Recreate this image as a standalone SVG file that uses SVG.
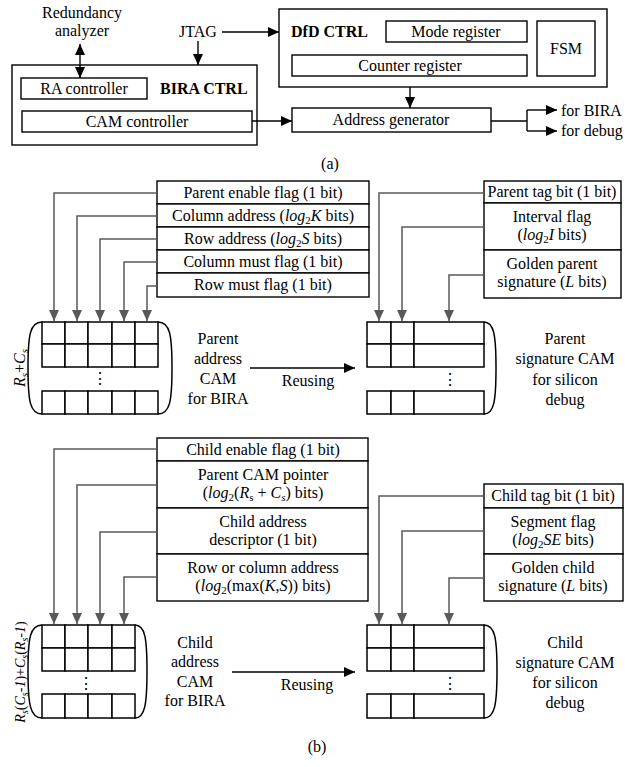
<svg xmlns="http://www.w3.org/2000/svg" width="634" height="767" viewBox="0 0 634 767" font-family="Liberation Serif, DejaVu Serif, serif">
<style>
text{font-family:'Liberation Serif','DejaVu Serif',serif;font-size:16px;fill:#000;text-anchor:middle}
.b{font-weight:bold}
.st{text-anchor:start}
.i{font-style:italic}
.box{fill:#fff;stroke:#000;stroke-width:1.4}
.cell{fill:#fff;stroke:#000;stroke-width:1.5}
.br{fill:none;stroke:#000;stroke-width:1.5}
.k{fill:none;stroke:#000;stroke-width:1.4}
.g{fill:none;stroke:#595959;stroke-width:1.5}
</style>
<defs>
<marker id="ah" markerUnits="userSpaceOnUse" markerWidth="11" markerHeight="10" viewBox="0 0 11 10" refX="11" refY="5" orient="auto"><path d="M0,0 L11,5 L0,10 z" fill="#000"/></marker>
<marker id="as" markerUnits="userSpaceOnUse" markerWidth="11" markerHeight="10" viewBox="0 0 11 10" refX="11" refY="5" orient="auto-start-reverse"><path d="M0,0 L11,5 L0,10 z" fill="#000"/></marker>
<marker id="gh" markerUnits="userSpaceOnUse" markerWidth="11" markerHeight="10" viewBox="0 0 11 10" refX="11" refY="5" orient="auto"><path d="M0,0 L11,5 L0,10 z" fill="#595959"/></marker>
</defs>

<!-- (a) -->
<g id="redundancy-analyzer"><text x="82" y="18">Redundancy</text><text x="82" y="36">analyzer</text></g>
<g id="jtag"><text x="198" y="37">JTAG</text></g>
<g id="bira-ctrl">
<rect class="box" x="12" y="65" width="245" height="80"/>
<text class="b st" x="160" y="94">BIRA CTRL</text>
</g>
<g id="ra-controller"><rect class="box" x="21" y="78" width="126" height="21"/><text x="84" y="94">RA controller</text></g>
<g id="cam-controller"><rect class="box" x="22" y="111" width="230" height="21"/><text x="137" y="127">CAM controller</text></g>
<g id="dfd-ctrl">
<rect class="box" x="279" y="9" width="328" height="78"/>
<text class="b st" x="291" y="37">DfD CTRL</text>
</g>
<g id="mode-register"><rect class="box" x="386" y="21" width="141" height="21"/><text x="456" y="37">Mode register</text></g>
<g id="counter-register"><rect class="box" x="292" y="55" width="235" height="21"/><text x="410" y="71">Counter register</text></g>
<g id="fsm"><rect class="box" x="537" y="21" width="58" height="55"/><text x="566" y="54">FSM</text></g>
<g id="address-generator"><rect class="box" x="292" y="108" width="199" height="24"/><text x="391" y="125">Address generator</text></g>
<g id="outputs"><text class="st" x="561" y="116">for BIRA</text><text class="st" x="561" y="136">for debug</text></g>
<text x="330" y="169">(a)</text>

<g id="connectors-a">
<line class="k" x1="80" y1="44" x2="80" y2="78" marker-start="url(#as)" marker-end="url(#ah)"/>
<line class="k" x1="222" y1="32" x2="279" y2="32" marker-end="url(#ah)"/>
<line class="k" x1="198" y1="41" x2="198" y2="65" marker-end="url(#ah)"/>
<line class="k" x1="252" y1="121" x2="292" y2="121" marker-end="url(#ah)"/>
<line class="k" x1="410" y1="87" x2="410" y2="108" marker-end="url(#ah)"/>
<polyline class="k" points="491,121 527,121"/>
<polyline class="k" points="527,110 527,131"/>
<line class="k" x1="527" y1="110" x2="557" y2="110" marker-end="url(#ah)"/>
<line class="k" x1="527" y1="131" x2="557" y2="131" marker-end="url(#ah)"/>
</g>

<!-- Parent fields -->
<g id="parent-fields">
<rect class="box" x="157" y="181" width="212" height="23"/>
<rect class="box" x="157" y="204" width="212" height="23"/>
<rect class="box" x="157" y="227" width="212" height="23"/>
<rect class="box" x="157" y="250" width="212" height="23"/>
<rect class="box" x="157" y="273" width="212" height="24"/>
<text x="263" y="198">Parent enable flag (1 bit)</text>
<text x="263" y="221">Column address (<tspan class="i">log</tspan><tspan font-size="11" dy="3">2</tspan><tspan class="i" dy="-3">K</tspan> bits)</text>
<text x="263" y="244">Row address (<tspan class="i">log</tspan><tspan font-size="11" dy="3">2</tspan><tspan class="i" dy="-3">S</tspan> bits)</text>
<text x="263" y="267">Column must flag (1 bit)</text>
<text x="263" y="290">Row must flag (1 bit)</text>
</g>

<g id="parent-address-cam">
<rect class="cell" x="42" y="322" width="23" height="22"/><rect class="cell" x="65" y="322" width="23" height="22"/><rect class="cell" x="88" y="322" width="24" height="22"/><rect class="cell" x="112" y="322" width="23" height="22"/><rect class="cell" x="135" y="322" width="23" height="22"/>
<rect class="cell" x="42" y="344" width="23" height="23"/><rect class="cell" x="65" y="344" width="23" height="23"/><rect class="cell" x="88" y="344" width="24" height="23"/><rect class="cell" x="112" y="344" width="23" height="23"/><rect class="cell" x="135" y="344" width="23" height="23"/>
<rect class="cell" x="42" y="391" width="23" height="23"/><rect class="cell" x="65" y="391" width="23" height="23"/><rect class="cell" x="88" y="391" width="24" height="23"/><rect class="cell" x="112" y="391" width="23" height="23"/><rect class="cell" x="135" y="391" width="23" height="23"/>
<path class="br" d="M42,322 C30,322 28,335 28,368 C28,401 30,414 42,414"/>
<path class="br" d="M158,322 C170,322 172,335 172,368 C172,401 170,414 158,414"/>
<text x="100" y="384">⋮</text>
<text class="i" transform="translate(25,368) rotate(-90)">R<tspan font-size="11" dy="3">s</tspan><tspan dy="-3" font-style="normal">+</tspan>C<tspan font-size="11" dy="3">s</tspan></text>
<text x="218" y="344">Parent</text><text x="218" y="364">address</text><text x="218" y="384">CAM</text><text x="218" y="404">for BIRA</text>
</g>

<g id="parent-signature-fields">
<rect class="box" x="484" y="181" width="137" height="22"/>
<rect class="box" x="484" y="203" width="137" height="47"/>
<rect class="box" x="484" y="250" width="137" height="48"/>
<text x="552" y="197">Parent tag bit (1 bit)</text>
<text x="552" y="222">Interval flag</text>
<text x="552" y="240">(<tspan class="i">log</tspan><tspan font-size="11" dy="3">2</tspan><tspan class="i" dy="-3">I</tspan> bits)</text>
<text x="552" y="269">Golden parent</text>
<text x="552" y="287">signature (<tspan class="i">L</tspan> bits)</text>
</g>

<g id="parent-signature-cam">
<rect class="cell" x="367" y="322" width="24" height="22"/><rect class="cell" x="391" y="322" width="23" height="22"/><rect class="cell" x="414" y="322" width="70" height="22"/>
<rect class="cell" x="367" y="344" width="24" height="23"/><rect class="cell" x="391" y="344" width="23" height="23"/><rect class="cell" x="414" y="344" width="70" height="23"/>
<rect class="cell" x="367" y="391" width="24" height="23"/><rect class="cell" x="391" y="391" width="23" height="23"/><rect class="cell" x="414" y="391" width="70" height="23"/>
<path class="br" d="M484,322 C494,322 496,335 496,368 C496,401 494,414 484,414"/>
<text x="450" y="385">⋮</text>
<text x="565" y="344">Parent</text><text x="565" y="364">signature CAM</text><text x="565" y="385">for silicon</text><text x="565" y="405">debug</text>
</g>
<text x="308" y="386">Reusing</text>

<!-- Child fields -->
<g id="child-fields">
<rect class="box" x="157" y="438" width="211" height="23"/>
<rect class="box" x="157" y="461" width="211" height="47"/>
<rect class="box" x="157" y="508" width="211" height="46"/>
<rect class="box" x="157" y="554" width="211" height="47"/>
<text x="263" y="455">Child enable flag (1 bit)</text>
<text x="263" y="480">Parent CAM pointer</text>
<text x="263" y="498">(<tspan class="i">log</tspan><tspan font-size="11" dy="3">2</tspan><tspan dy="-3">(</tspan><tspan class="i">R</tspan><tspan font-size="11" dy="3">s</tspan><tspan dy="-3"> + </tspan><tspan class="i">C</tspan><tspan class="i" font-size="11" dy="3">s</tspan><tspan dy="-3">) bits)</tspan></text>
<text x="263" y="527">Child address</text>
<text x="263" y="545">descriptor (1 bit)</text>
<text x="263" y="573">Row or column address</text>
<text x="263" y="591">(<tspan class="i">log</tspan><tspan font-size="11" dy="3">2</tspan><tspan dy="-3">(max(</tspan><tspan class="i">K</tspan>,<tspan class="i">S</tspan>)) bits)</text>
</g>

<g id="child-address-cam">
<rect class="cell" x="42" y="625" width="23" height="23"/><rect class="cell" x="65" y="625" width="23" height="23"/><rect class="cell" x="88" y="625" width="24" height="23"/><rect class="cell" x="112" y="625" width="23" height="23"/>
<rect class="cell" x="42" y="648" width="23" height="23"/><rect class="cell" x="65" y="648" width="23" height="23"/><rect class="cell" x="88" y="648" width="24" height="23"/><rect class="cell" x="112" y="648" width="23" height="23"/>
<rect class="cell" x="42" y="694" width="23" height="24"/><rect class="cell" x="65" y="694" width="23" height="24"/><rect class="cell" x="88" y="694" width="24" height="24"/><rect class="cell" x="112" y="694" width="23" height="24"/>
<path class="br" d="M42,625 C30,625 28,638 28,671 C28,704 30,718 42,718"/>
<path class="br" d="M135,625 C145,625 147,638 147,671 C147,704 145,718 135,718"/>
<text x="86" y="689">⋮</text>
<text class="i" transform="translate(25,672) rotate(-90)" style="font-size:14px">R<tspan font-size="10" dy="3">s</tspan><tspan dy="-3" font-style="normal">(</tspan>C<tspan font-size="10" dy="3">s</tspan><tspan dy="-3" font-style="normal">-</tspan>1<tspan font-style="normal">)+</tspan>C<tspan font-size="10" dy="3">s</tspan><tspan dy="-3" font-style="normal">(</tspan>R<tspan font-size="10" dy="3">s</tspan><tspan dy="-3" font-style="normal">-</tspan>1<tspan font-style="normal">)</tspan></text>
<text x="195" y="648">Child</text><text x="195" y="667">address</text><text x="195" y="687">CAM</text><text x="195" y="706">for BIRA</text>
</g>

<g id="child-signature-fields">
<rect class="box" x="484" y="484" width="139" height="24"/>
<rect class="box" x="484" y="508" width="139" height="46"/>
<rect class="box" x="484" y="554" width="139" height="47"/>
<text x="553" y="501">Child tag bit (1 bit)</text>
<text x="553" y="527">Segment flag</text>
<text x="553" y="545">(<tspan class="i">log</tspan><tspan font-size="11" dy="3">2</tspan><tspan class="i" dy="-3">SE</tspan> bits)</text>
<text x="553" y="573">Golden child</text>
<text x="553" y="591">signature (<tspan class="i">L</tspan> bits)</text>
</g>

<g id="child-signature-cam">
<rect class="cell" x="367" y="625" width="24" height="23"/><rect class="cell" x="391" y="625" width="23" height="23"/><rect class="cell" x="414" y="625" width="70" height="23"/>
<rect class="cell" x="367" y="648" width="24" height="23"/><rect class="cell" x="391" y="648" width="23" height="23"/><rect class="cell" x="414" y="648" width="70" height="23"/>
<rect class="cell" x="367" y="694" width="24" height="24"/><rect class="cell" x="391" y="694" width="23" height="24"/><rect class="cell" x="414" y="694" width="70" height="24"/>
<path class="br" d="M484,625 C495,625 497,638 497,671 C497,704 495,718 484,718"/>
<text x="450" y="689">⋮</text>
<text x="565" y="648">Child</text><text x="565" y="668">signature CAM</text><text x="565" y="688">for silicon</text><text x="565" y="708">debug</text>
</g>
<text x="307" y="690">Reusing</text>
<text x="317" y="752">(b)</text>

<g id="connectors-b">
<polyline class="g" points="157,193 54,193 54,321" marker-end="url(#gh)"/>
<polyline class="g" points="157,216 77,216 77,321" marker-end="url(#gh)"/>
<polyline class="g" points="157,239 100,239 100,321" marker-end="url(#gh)"/>
<polyline class="g" points="157,262 124,262 124,321" marker-end="url(#gh)"/>
<polyline class="g" points="157,286 147,286 147,321" marker-end="url(#gh)"/>
<polyline class="g" points="484,193 379,193 379,321" marker-end="url(#gh)"/>
<polyline class="g" points="484,227 402,227 402,321" marker-end="url(#gh)"/>
<polyline class="g" points="484,275 449,275 449,321" marker-end="url(#gh)"/>
<line class="k" x1="250" y1="368" x2="355" y2="368" marker-end="url(#ah)"/>
<polyline class="g" points="157,449 54,449 54,624" marker-end="url(#gh)"/>
<polyline class="g" points="157,485 77,485 77,624" marker-end="url(#gh)"/>
<polyline class="g" points="157,532 100,532 100,624" marker-end="url(#gh)"/>
<polyline class="g" points="157,577 124,577 124,624" marker-end="url(#gh)"/>
<polyline class="g" points="484,496 379,496 379,624" marker-end="url(#gh)"/>
<polyline class="g" points="484,531 402,531 402,624" marker-end="url(#gh)"/>
<polyline class="g" points="484,578 449,578 449,624" marker-end="url(#gh)"/>
<line class="k" x1="232" y1="672" x2="355" y2="672" marker-end="url(#ah)"/>
</g>
</svg>
